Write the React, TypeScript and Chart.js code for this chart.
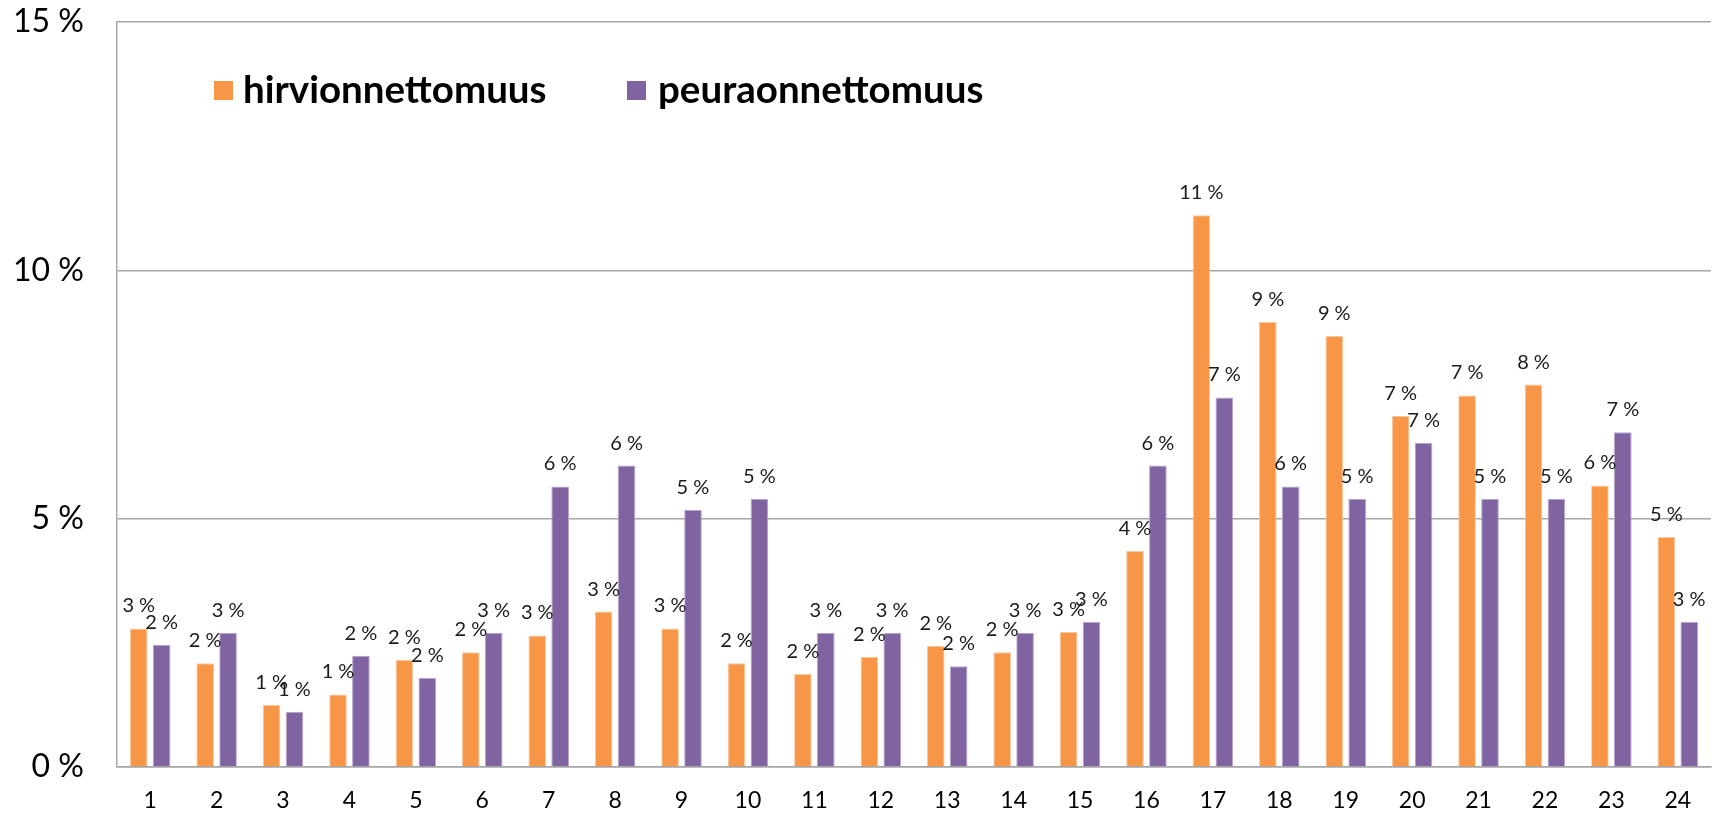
import React, { useEffect, useRef } from "react";
import { Chart, registerables } from "chart.js";

Chart.register(...registerables);

const categories: string[] = [
  "1", "2", "3", "4", "5", "6", "7", "8", "9", "10", "11", "12",
  "13", "14", "15", "16", "17", "18", "19", "20", "21", "22", "23", "24",
];

const hirvi: number[] = [
  2.79, 2.09, 1.25, 1.46, 2.16, 2.31, 2.65, 3.13, 2.79, 2.09, 1.87, 2.22,
  2.44, 2.31, 2.72, 4.35, 11.11, 8.96, 8.68, 7.07, 7.48, 7.70, 5.67, 4.63,
];

const peura: number[] = [
  2.46, 2.70, 1.11, 2.24, 1.79, 2.70, 5.65, 6.07, 5.18, 5.40, 2.70, 2.70,
  2.03, 2.70, 2.92, 6.07, 7.44, 5.65, 5.40, 6.53, 5.40, 5.40, 6.74, 2.92,
];

const seriesNames: string[] = ["hirvionnettomuus", "peuraonnettomuus"];
const seriesColors: string[] = ["#F79646", "#8064A2"];
const seriesBorders: string[] = ["#FAC9A1", "#B7A6CC"];
const yTicks: number[] = [0, 5, 10, 15];

const FONT = "Lato, 'Open Sans', sans-serif";

const dataLabelPlugin = {
  id: "dataLabels",
  afterDatasetsDraw(chart: any) {
    const ctx = chart.ctx;
    ctx.save();
    ctx.font = `20px ${FONT}`;
    ctx.fillStyle = "#1a1a1a";
    ctx.textAlign = "center";
    ctx.textBaseline = "alphabetic";
    chart.data.datasets.forEach((ds: any, di: number) => {
      const meta = chart.getDatasetMeta(di);
      meta.data.forEach((bar: any, i: number) => {
        const v = ds.data[i] as number;
        ctx.fillText(`${Math.round(v)} %`, bar.x, bar.y - 16);
      });
    });
    ctx.restore();
  },
};

const legendPlugin = {
  id: "insideLegend",
  afterDraw(chart: any) {
    const ctx = chart.ctx;
    const items = [
      { x: 214, tx: 243 },
      { x: 627, tx: 658 },
    ];
    ctx.save();
    ctx.font = `bold 38.5px ${FONT}`;
    ctx.textBaseline = "middle";
    ctx.textAlign = "left";
    items.forEach((it, i) => {
      ctx.fillStyle = seriesColors[i];
      ctx.fillRect(it.x, 81, 19, 19);
      ctx.fillStyle = "#000";
      ctx.fillText(seriesNames[i], it.tx, 91);
    });
    ctx.restore();
  },
};

export default function App() {
  const ref = useRef<HTMLCanvasElement | null>(null);

  useEffect(() => {
    if (!ref.current) return;
    const chart = new Chart(ref.current, {
      type: "bar",
      data: {
        labels: categories,
        datasets: [
          {
            label: seriesNames[0],
            data: hirvi,
            backgroundColor: seriesColors[0],
            borderColor: seriesBorders[0],
            borderWidth: 1,
            categoryPercentage: 0.69,
            barPercentage: 0.77,
          },
          {
            label: seriesNames[1],
            data: peura,
            backgroundColor: seriesColors[1],
            borderColor: seriesBorders[1],
            borderWidth: 1,
            categoryPercentage: 0.69,
            barPercentage: 0.77,
          },
        ],
      },
      options: {
        animation: false,
        responsive: false,
        maintainAspectRatio: false,
        layout: { padding: { top: 22, right: 6, left: 0, bottom: 0 } },
        plugins: {
          legend: { display: false },
          tooltip: { enabled: false },
        },
        scales: {
          x: {
            grid: { display: false, drawTicks: false },
            border: { display: true, color: "#a6a6a6", width: 1.5 },
            ticks: {
              font: { family: FONT, size: 23 },
              color: "#000",
              padding: 20,
              maxRotation: 0,
            },
            afterFit(scale: any) {
              scale.height = 47;
            },
          },
          y: {
            min: 0,
            max: 15,
            afterBuildTicks(scale: any) {
              scale.ticks = yTicks.map((v) => ({ value: v }));
            },
            grid: { color: "#a6a6a6", lineWidth: 1.5, drawTicks: false },
            border: { display: true, color: "#a6a6a6", width: 1.5 },
            ticks: {
              font: { family: FONT, size: 32 },
              color: "#000",
              padding: 33,
              callback: (v: any) => `${v} %`,
            },
            afterFit(scale: any) {
              scale.width = 117;
              scale.paddingTop = 0;
              scale.paddingBottom = 0;
            },
          },
        },
      },
      plugins: [dataLabelPlugin, legendPlugin],
    });
    return () => chart.destroy();
  }, []);

  return (
    <div style={{ position: "fixed", left: 0, top: 0, width: 1717, height: 814, background: "#fff" }}>
      <canvas ref={ref} width={1717} height={814} style={{ width: 1717, height: 814, display: "block" }} />
    </div>
  );
}
